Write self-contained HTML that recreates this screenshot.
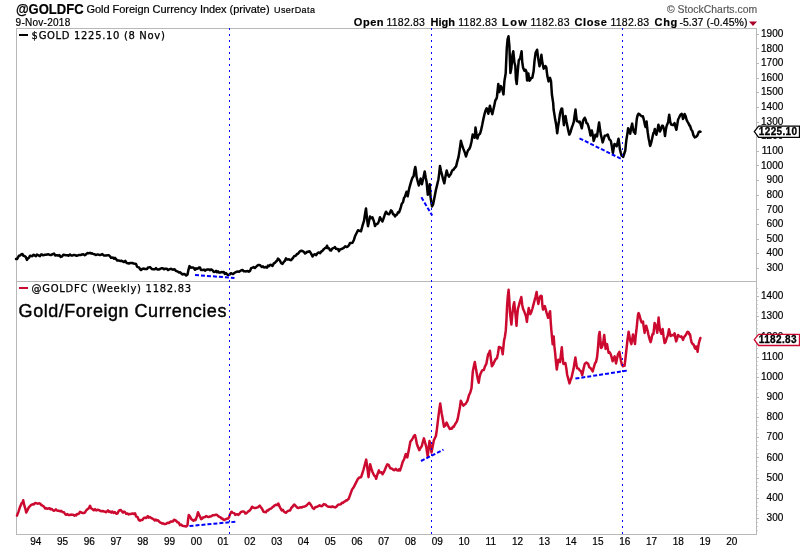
<!DOCTYPE html>
<html><head><meta charset="utf-8"><title>@GOLDFC Gold Foreign Currency Index</title>
<style>
html,body{margin:0;padding:0;background:#fff;}
body{width:800px;height:550px;position:relative;overflow:hidden;font-family:"Liberation Sans",Arial,sans-serif;color:#000;}
svg text{white-space:pre;}
</style></head><body>
<svg width="800" height="550" viewBox="0 0 800 550" style="position:absolute;left:0;top:0">
<rect x="0" y="0" width="800" height="550" fill="#fff"/>
<g fill="none" stroke="#b8b8b8" stroke-width="1" shape-rendering="crispEdges">
<rect x="16.5" y="28.5" width="740.0" height="506.0"/>
<line x1="16.5" y1="281.5" x2="756.5" y2="281.5"/>
<line x1="756.5" y1="268.5" x2="759.0" y2="268.5"/>
<line x1="756.5" y1="253.5" x2="759.0" y2="253.5"/>
<line x1="756.5" y1="239.5" x2="759.0" y2="239.5"/>
<line x1="756.5" y1="224.5" x2="759.0" y2="224.5"/>
<line x1="756.5" y1="209.5" x2="759.0" y2="209.5"/>
<line x1="756.5" y1="195.5" x2="759.0" y2="195.5"/>
<line x1="756.5" y1="180.5" x2="759.0" y2="180.5"/>
<line x1="756.5" y1="165.5" x2="759.0" y2="165.5"/>
<line x1="756.5" y1="151.5" x2="759.0" y2="151.5"/>
<line x1="756.5" y1="136.5" x2="759.0" y2="136.5"/>
<line x1="756.5" y1="122.5" x2="759.0" y2="122.5"/>
<line x1="756.5" y1="107.5" x2="759.0" y2="107.5"/>
<line x1="756.5" y1="92.5" x2="759.0" y2="92.5"/>
<line x1="756.5" y1="78.5" x2="759.0" y2="78.5"/>
<line x1="756.5" y1="63.5" x2="759.0" y2="63.5"/>
<line x1="756.5" y1="48.5" x2="759.0" y2="48.5"/>
<line x1="756.5" y1="34.5" x2="759.0" y2="34.5"/>
<line x1="756.5" y1="518.5" x2="759.0" y2="518.5"/>
<line x1="756.5" y1="498.5" x2="759.0" y2="498.5"/>
<line x1="756.5" y1="478.5" x2="759.0" y2="478.5"/>
<line x1="756.5" y1="457.5" x2="759.0" y2="457.5"/>
<line x1="756.5" y1="437.5" x2="759.0" y2="437.5"/>
<line x1="756.5" y1="417.5" x2="759.0" y2="417.5"/>
<line x1="756.5" y1="397.5" x2="759.0" y2="397.5"/>
<line x1="756.5" y1="377.5" x2="759.0" y2="377.5"/>
<line x1="756.5" y1="357.5" x2="759.0" y2="357.5"/>
<line x1="756.5" y1="336.5" x2="759.0" y2="336.5"/>
<line x1="756.5" y1="316.5" x2="759.0" y2="316.5"/>
<line x1="756.5" y1="296.5" x2="759.0" y2="296.5"/>
</g>
<g fill="none" stroke="#d0d0d0" stroke-width="1" shape-rendering="crispEdges">
<line x1="756.5" y1="530.5" x2="758.0" y2="530.5"/>
<line x1="756.5" y1="526.5" x2="758.0" y2="526.5"/>
<line x1="756.5" y1="522.5" x2="758.0" y2="522.5"/>
<line x1="756.5" y1="514.5" x2="758.0" y2="514.5"/>
<line x1="756.5" y1="510.5" x2="758.0" y2="510.5"/>
<line x1="756.5" y1="506.5" x2="758.0" y2="506.5"/>
<line x1="756.5" y1="502.5" x2="758.0" y2="502.5"/>
<line x1="756.5" y1="494.5" x2="758.0" y2="494.5"/>
<line x1="756.5" y1="490.5" x2="758.0" y2="490.5"/>
<line x1="756.5" y1="486.5" x2="758.0" y2="486.5"/>
<line x1="756.5" y1="482.5" x2="758.0" y2="482.5"/>
<line x1="756.5" y1="474.5" x2="758.0" y2="474.5"/>
<line x1="756.5" y1="470.5" x2="758.0" y2="470.5"/>
<line x1="756.5" y1="466.5" x2="758.0" y2="466.5"/>
<line x1="756.5" y1="461.5" x2="758.0" y2="461.5"/>
<line x1="756.5" y1="453.5" x2="758.0" y2="453.5"/>
<line x1="756.5" y1="449.5" x2="758.0" y2="449.5"/>
<line x1="756.5" y1="445.5" x2="758.0" y2="445.5"/>
<line x1="756.5" y1="441.5" x2="758.0" y2="441.5"/>
<line x1="756.5" y1="433.5" x2="758.0" y2="433.5"/>
<line x1="756.5" y1="429.5" x2="758.0" y2="429.5"/>
<line x1="756.5" y1="425.5" x2="758.0" y2="425.5"/>
<line x1="756.5" y1="421.5" x2="758.0" y2="421.5"/>
<line x1="756.5" y1="413.5" x2="758.0" y2="413.5"/>
<line x1="756.5" y1="409.5" x2="758.0" y2="409.5"/>
<line x1="756.5" y1="405.5" x2="758.0" y2="405.5"/>
<line x1="756.5" y1="401.5" x2="758.0" y2="401.5"/>
<line x1="756.5" y1="393.5" x2="758.0" y2="393.5"/>
<line x1="756.5" y1="389.5" x2="758.0" y2="389.5"/>
<line x1="756.5" y1="385.5" x2="758.0" y2="385.5"/>
<line x1="756.5" y1="381.5" x2="758.0" y2="381.5"/>
<line x1="756.5" y1="373.5" x2="758.0" y2="373.5"/>
<line x1="756.5" y1="369.5" x2="758.0" y2="369.5"/>
<line x1="756.5" y1="365.5" x2="758.0" y2="365.5"/>
<line x1="756.5" y1="361.5" x2="758.0" y2="361.5"/>
<line x1="756.5" y1="353.5" x2="758.0" y2="353.5"/>
<line x1="756.5" y1="348.5" x2="758.0" y2="348.5"/>
<line x1="756.5" y1="344.5" x2="758.0" y2="344.5"/>
<line x1="756.5" y1="340.5" x2="758.0" y2="340.5"/>
<line x1="756.5" y1="332.5" x2="758.0" y2="332.5"/>
<line x1="756.5" y1="328.5" x2="758.0" y2="328.5"/>
<line x1="756.5" y1="324.5" x2="758.0" y2="324.5"/>
<line x1="756.5" y1="320.5" x2="758.0" y2="320.5"/>
<line x1="756.5" y1="312.5" x2="758.0" y2="312.5"/>
<line x1="756.5" y1="308.5" x2="758.0" y2="308.5"/>
<line x1="756.5" y1="304.5" x2="758.0" y2="304.5"/>
<line x1="756.5" y1="300.5" x2="758.0" y2="300.5"/>
<line x1="756.5" y1="292.5" x2="758.0" y2="292.5"/>
<line x1="756.5" y1="288.5" x2="758.0" y2="288.5"/>
</g>
<path d="M16.0,259.0 L17.0,259.0 L18.0,257.3 L19.0,255.7 L20.0,255.5 L21.2,254.5 L22.5,254.0 L23.5,255.8 L24.5,256.0 L25.8,257.0 L27.0,259.9 L28.0,258.4 L29.0,257.8 L30.0,255.7 L31.0,255.9 L32.3,256.2 L33.7,254.7 L35.0,255.6 L36.0,256.2 L37.0,254.5 L38.0,255.2 L39.0,255.6 L40.0,256.1 L41.0,254.6 L42.0,254.4 L43.0,255.2 L44.0,255.0 L45.0,254.7 L46.0,254.8 L47.0,254.6 L48.0,254.3 L49.0,254.5 L50.0,255.0 L51.3,254.9 L52.7,254.1 L54.0,253.6 L55.3,255.4 L56.7,255.2 L58.0,255.7 L59.3,255.0 L60.7,256.9 L62.0,256.5 L63.3,254.8 L64.7,255.0 L66.0,255.3 L67.3,255.3 L68.7,255.7 L70.0,254.5 L71.3,255.5 L72.7,255.4 L74.0,254.9 L75.3,255.3 L76.7,255.8 L78.0,255.3 L79.3,254.9 L80.7,255.1 L82.0,254.4 L83.3,254.3 L84.7,255.3 L86.0,254.4 L87.3,253.1 L88.7,253.3 L90.0,252.8 L91.0,253.4 L92.0,253.2 L93.0,253.9 L94.3,254.2 L95.7,255.0 L97.0,254.6 L98.3,254.6 L99.7,255.0 L101.0,254.7 L102.3,254.1 L103.7,255.4 L105.0,255.4 L106.2,255.4 L107.5,255.3 L108.8,255.2 L110.0,256.3 L111.0,257.7 L112.0,257.7 L113.0,257.6 L114.0,258.8 L115.0,257.9 L116.0,259.0 L117.3,260.6 L118.7,260.5 L120.0,260.9 L121.3,260.7 L122.7,261.4 L124.0,262.1 L125.3,260.9 L126.7,263.0 L128.0,263.2 L129.0,263.5 L130.0,263.1 L131.0,262.9 L132.3,263.0 L133.7,263.5 L135.0,263.7 L136.0,263.9 L137.0,266.7 L138.0,267.1 L139.0,267.4 L140.0,269.0 L141.0,270.0 L142.0,269.2 L143.0,268.7 L144.0,268.6 L145.0,269.0 L146.0,269.1 L147.0,268.9 L148.0,267.5 L149.0,267.4 L150.0,267.1 L151.0,268.1 L152.0,269.1 L153.0,269.2 L154.0,269.3 L155.0,269.2 L156.0,268.1 L157.3,269.5 L158.7,269.5 L160.0,269.0 L161.3,268.3 L162.7,268.2 L164.0,269.3 L165.3,268.7 L166.7,268.7 L168.0,270.0 L169.3,269.4 L170.7,268.8 L172.0,269.2 L173.0,269.8 L174.0,269.2 L175.0,269.7 L176.0,271.1 L177.0,271.2 L178.0,271.8 L179.1,272.6 L180.2,272.3 L181.4,273.6 L182.5,274.4 L183.8,274.0 L185.0,274.3 L186.2,275.5 L187.5,274.5 L188.5,269.6 L189.5,266.1 L190.8,267.7 L192.0,267.4 L193.0,267.5 L194.0,268.3 L195.0,269.8 L196.0,268.3 L197.0,268.9 L198.0,268.4 L199.0,267.6 L200.0,267.6 L201.0,269.9 L202.0,270.0 L203.0,269.9 L204.0,269.6 L205.0,270.7 L206.2,269.8 L207.5,269.6 L208.8,269.4 L210.0,270.2 L211.2,269.4 L212.5,270.2 L213.8,271.9 L215.0,271.7 L216.0,270.9 L217.0,272.2 L218.0,271.3 L219.1,272.6 L220.2,272.5 L221.4,272.1 L222.5,272.2 L223.7,271.9 L224.8,274.0 L226.0,273.0 L227.2,274.5 L228.3,275.1 L229.5,274.6 L230.8,273.2 L232.0,273.7 L233.0,274.0 L234.0,273.2 L235.0,272.5 L236.0,272.0 L237.0,271.7 L238.0,271.4 L239.1,271.8 L240.2,271.0 L241.4,270.2 L242.5,270.0 L243.8,271.3 L245.0,271.2 L246.2,271.4 L247.5,271.0 L248.8,271.7 L250.0,271.0 L251.2,268.1 L252.5,267.6 L253.7,267.1 L254.8,268.0 L256.0,266.9 L257.3,265.7 L258.7,264.9 L260.0,265.2 L261.0,266.2 L262.0,267.0 L263.0,266.4 L264.0,267.5 L265.0,267.3 L266.0,267.0 L267.0,267.6 L268.0,265.6 L269.0,266.1 L270.2,264.8 L271.3,264.9 L272.5,266.0 L273.8,263.4 L275.0,262.8 L276.0,261.5 L277.0,260.7 L278.0,258.6 L279.0,259.5 L280.0,260.7 L281.2,263.2 L282.5,263.9 L284.0,261.6 L285.0,260.7 L286.0,258.3 L287.0,259.5 L288.0,259.5 L289.0,259.3 L290.0,259.9 L291.0,260.3 L292.0,259.1 L293.0,257.9 L294.0,256.3 L295.0,256.1 L296.0,255.4 L297.0,254.0 L298.0,253.7 L299.0,252.4 L300.2,251.1 L301.3,250.7 L302.5,251.0 L304.0,252.1 L305.0,253.5 L306.0,252.9 L307.0,251.8 L308.0,251.9 L309.5,251.2 L311.0,253.4 L312.5,256.5 L313.8,254.6 L315.0,254.3 L316.2,255.1 L317.5,253.1 L318.8,252.5 L320.0,253.1 L321.2,251.6 L322.5,250.7 L323.8,249.1 L325.0,248.1 L326.0,247.9 L327.0,245.7 L328.0,248.3 L329.0,248.3 L330.0,250.3 L331.0,250.6 L332.0,248.8 L333.0,248.2 L334.0,247.9 L335.0,247.0 L336.0,248.8 L337.0,248.9 L338.0,248.9 L339.0,251.2 L340.2,249.3 L341.5,249.1 L342.8,248.4 L344.0,247.7 L345.2,246.2 L346.5,247.0 L347.8,246.5 L349.0,245.2 L350.0,243.0 L351.0,243.0 L352.5,242.7 L354.0,239.7 L355.0,236.3 L356.5,233.3 L358.0,230.2 L359.5,230.8 L361.0,231.3 L362.5,225.7 L364.0,220.9 L365.0,214.3 L366.0,208.4 L367.0,218.7 L368.0,226.2 L369.0,221.2 L370.0,216.5 L371.0,218.2 L372.5,217.3 L374.0,221.7 L375.0,226.0 L376.0,224.4 L377.0,224.0 L378.0,223.4 L379.0,220.9 L380.0,217.2 L381.5,220.1 L382.5,221.4 L384.0,217.1 L385.0,214.1 L386.0,211.7 L387.5,213.8 L389.0,214.3 L390.0,212.6 L391.0,210.3 L392.0,211.4 L393.0,214.2 L394.0,214.5 L395.0,216.5 L396.0,215.0 L397.0,214.6 L398.0,212.3 L399.0,212.5 L400.5,208.5 L401.8,203.7 L403.0,202.3 L404.0,197.9 L405.0,196.5 L406.5,191.8 L407.7,196.2 L408.6,191.3 L409.5,187.3 L410.4,184.2 L411.3,181.0 L412.5,177.6 L413.6,176.3 L414.5,170.3 L415.3,166.9 L416.0,171.1 L416.5,176.5 L417.8,181.7 L418.8,185.5 L419.8,182.2 L420.7,178.6 L421.9,184.3 L423.3,178.3 L424.7,171.4 L425.7,177.4 L426.6,182.1 L427.2,188.4 L427.8,194.8 L428.8,189.6 L429.7,184.2 L430.2,191.8 L430.6,197.4 L431.3,202.1 L432.0,206.4 L433.0,204.6 L433.7,201.5 L434.8,195.8 L436.0,189.5 L437.2,184.6 L438.4,179.5 L439.2,173.3 L440.0,165.9 L441.0,171.1 L442.0,174.8 L443.2,179.7 L444.3,183.3 L445.5,176.3 L446.7,170.5 L447.8,174.6 L449.0,176.6 L449.9,175.1 L450.8,174.2 L451.7,171.6 L452.6,170.0 L453.5,169.7 L454.4,168.4 L456.1,166.4 L457.3,161.4 L458.5,157.1 L459.7,149.5 L460.9,140.8 L462.0,145.0 L463.2,148.4 L464.6,152.0 L466.0,156.5 L467.0,153.1 L468.0,150.4 L469.2,149.1 L470.3,146.8 L471.5,141.8 L472.7,134.5 L473.7,135.9 L474.6,137.8 L475.1,133.8 L475.5,127.6 L476.5,134.0 L477.4,138.6 L478.3,135.3 L479.2,134.4 L480.1,133.5 L481.0,130.4 L482.2,125.0 L483.3,119.4 L484.5,114.2 L485.7,110.2 L486.6,108.4 L487.1,108.7 L488.3,113.8 L489.9,105.8 L491.0,110.0 L492.3,114.2 L493.2,110.2 L494.2,105.9 L495.3,100.5 L496.5,98.6 L497.0,96.5 L498.3,83.9 L499.2,92.1 L500.9,86.1 L502.2,88.7 L503.5,94.4 L504.4,81.4 L505.7,73.2 L506.8,47.9 L507.6,39.4 L508.5,36.3 L509.4,46.2 L510.4,72.9 L511.4,68.0 L512.4,55.1 L513.3,51.3 L514.4,62.5 L515.3,65.8 L515.9,78.7 L516.7,84.1 L517.9,69.6 L518.8,60.2 L520.1,58.5 L521.6,51.3 L522.2,61.6 L523.1,67.7 L524.4,70.9 L525.4,69.7 L526.4,71.6 L527.1,80.5 L528.4,73.6 L529.3,80.7 L530.3,79.8 L531.3,77.7 L532.3,77.7 L533.6,71.3 L534.5,61.2 L535.6,52.7 L537.1,49.7 L538.2,58.4 L539.5,66.2 L540.5,61.5 L541.4,54.8 L542.4,62.8 L543.7,68.7 L545.4,66.0 L546.3,67.5 L547.3,75.8 L548.6,81.4 L550.0,77.8 L551.0,81.0 L551.9,94.5 L553.2,103.1 L553.6,109.5 L554.4,114.4 L555.2,119.6 L556.1,124.3 L556.7,128.8 L557.2,133.3 L558.2,125.7 L559.1,120.2 L560.0,113.7 L560.8,110.5 L561.5,108.6 L562.2,108.7 L563.0,116.6 L563.9,125.2 L564.7,119.2 L565.5,116.0 L566.5,121.7 L567.4,126.2 L568.4,131.0 L569.3,134.6 L570.5,132.1 L571.7,127.9 L572.8,124.9 L573.8,121.8 L574.6,115.6 L575.5,109.6 L576.2,116.1 L576.9,121.1 L578.0,121.4 L578.9,122.2 L579.8,121.6 L580.8,125.0 L581.8,128.3 L582.5,124.3 L583.1,120.5 L583.9,119.3 L584.7,117.7 L585.6,119.5 L586.4,122.9 L587.4,123.5 L588.3,125.9 L589.4,129.8 L590.5,135.5 L591.2,134.0 L591.8,130.5 L592.8,135.3 L593.7,141.0 L594.6,138.1 L595.4,134.7 L596.2,135.0 L597.0,136.5 L598.0,129.8 L599.1,122.5 L600.0,129.3 L600.8,134.4 L601.8,138.5 L602.7,142.4 L603.7,139.2 L604.7,135.8 L606.2,135.5 L607.7,134.5 L608.5,137.0 L609.3,139.4 L610.1,139.8 L610.9,141.1 L611.9,146.8 L612.9,153.0 L613.7,148.3 L614.5,143.9 L615.6,145.0 L616.7,146.3 L617.6,142.6 L618.5,138.8 L619.2,143.5 L619.9,149.3 L620.8,152.9 L621.6,155.6 L622.4,155.3 L623.2,156.9 L624.3,153.5 L625.3,150.5 L625.9,144.1 L626.5,139.1 L627.3,134.3 L628.1,128.3 L629.2,130.7 L630.2,133.7 L631.2,127.5 L632.2,123.6 L633.0,128.6 L633.9,132.1 L634.6,132.4 L635.2,133.8 L636.0,126.7 L636.8,118.9 L637.6,115.4 L638.4,113.7 L639.4,114.1 L640.4,115.3 L641.7,116.2 L642.9,116.3 L643.7,119.2 L644.5,122.7 L645.1,125.7 L645.6,127.0 L646.1,124.7 L646.6,121.6 L647.2,128.0 L647.8,132.9 L648.6,138.2 L649.4,141.9 L649.8,144.6 L650.2,145.9 L651.0,143.4 L651.9,139.8 L652.7,136.0 L653.5,132.8 L654.2,132.0 L654.8,128.9 L655.6,132.9 L656.4,134.8 L657.4,130.8 L658.4,124.7 L659.2,127.6 L660.0,131.6 L661.0,129.0 L662.0,125.8 L662.8,125.8 L663.6,128.0 L664.3,130.7 L665.0,136.0 L665.8,129.9 L666.6,126.1 L667.4,124.0 L668.2,122.1 L668.7,117.7 L669.2,114.7 L669.7,117.9 L670.2,121.9 L671.2,124.5 L672.3,124.9 L673.4,124.9 L674.5,123.1 L675.5,127.0 L676.4,129.8 L677.3,124.4 L678.1,119.5 L678.9,118.0 L679.7,116.2 L680.7,114.5 L681.7,113.9 L682.4,115.7 L683.0,118.9 L683.8,117.4 L684.6,114.0 L685.6,116.0 L686.6,119.9 L687.6,121.8 L688.7,123.7 L689.4,125.4 L690.0,125.7 L691.2,129.5 L692.3,130.9 L693.5,135.4 L694.7,137.5 L696.0,136.8 L697.2,135.8 L698.0,133.9 L698.8,131.9 L699.6,131.5 L700.5,131.7" fill="none" stroke="#000" stroke-width="2.5" stroke-linejoin="round" stroke-linecap="round"/>
<path d="M17.0,515.6 L18.5,511.6 L20.0,506.9 L21.5,503.4 L22.4,502.8 L23.2,500.3 L24.5,506.2 L25.4,508.8 L26.2,512.6 L27.1,511.0 L28.0,509.1 L29.0,506.9 L30.0,506.2 L31.2,504.9 L32.5,504.3 L33.8,504.4 L35.0,503.1 L36.0,503.1 L37.0,503.4 L38.0,503.7 L39.1,503.3 L40.2,503.6 L41.2,505.0 L42.6,505.6 L44.0,506.8 L45.2,508.4 L46.3,508.2 L47.5,508.8 L48.5,508.4 L49.5,508.2 L50.5,509.3 L51.6,508.9 L52.7,509.9 L53.8,510.7 L54.8,510.4 L55.9,509.3 L57.0,510.5 L58.1,510.8 L59.1,510.8 L60.2,511.3 L61.2,510.8 L62.6,512.1 L64.0,512.3 L65.2,514.2 L66.3,514.8 L67.5,514.1 L68.7,515.1 L69.8,515.0 L71.0,514.6 L72.0,514.7 L73.1,514.7 L74.2,515.7 L75.2,514.9 L76.2,515.4 L77.1,513.9 L78.0,514.0 L79.0,513.6 L80.0,511.9 L81.2,512.4 L82.5,513.1 L83.8,513.0 L85.0,512.5 L86.2,510.4 L87.5,509.3 L88.8,508.3 L90.0,505.8 L91.2,508.5 L92.5,509.2 L93.8,510.3 L95.0,509.1 L96.2,510.4 L97.5,509.8 L98.5,509.9 L99.5,510.4 L100.5,511.0 L101.6,511.3 L102.7,511.0 L103.8,511.4 L104.8,511.6 L105.9,512.3 L107.0,511.4 L108.0,510.3 L109.0,511.9 L110.0,511.5 L111.2,512.6 L112.3,511.5 L113.5,512.9 L114.8,512.0 L116.2,513.7 L117.5,513.5 L118.4,511.6 L119.2,510.5 L120.6,509.9 L122.0,511.5 L123.0,512.6 L124.0,511.6 L125.0,512.1 L126.2,513.9 L127.5,513.5 L128.8,514.5 L130.0,513.9 L131.2,513.9 L132.5,513.4 L133.8,514.1 L135.0,513.2 L136.2,516.6 L137.5,516.9 L138.8,519.9 L140.0,520.7 L141.2,519.9 L142.5,519.9 L143.8,518.0 L145.0,517.6 L146.0,518.1 L147.0,517.2 L147.9,516.2 L148.8,517.6 L149.9,517.0 L151.0,517.8 L152.4,518.6 L153.8,519.6 L154.8,520.4 L155.9,519.6 L157.0,520.6 L158.0,520.2 L159.0,521.5 L160.0,522.3 L161.0,522.8 L162.0,523.5 L163.0,523.3 L164.1,524.0 L165.2,523.9 L166.2,523.7 L167.6,522.7 L169.0,523.0 L170.1,522.0 L171.2,521.5 L172.1,521.4 L173.0,521.5 L174.0,519.7 L175.0,520.1 L176.2,520.9 L177.5,522.3 L178.8,522.7 L180.0,525.1 L181.2,524.6 L182.5,525.8 L183.8,526.1 L185.0,526.2 L186.4,526.4 L187.5,525.1 L188.1,519.4 L188.8,514.9 L189.6,516.0 L190.5,517.5 L191.5,519.3 L192.5,520.0 L193.5,520.7 L194.5,519.8 L195.4,520.1 L196.2,518.4 L197.2,515.4 L198.0,512.2 L199.5,515.7 L200.4,517.4 L201.2,519.1 L202.1,518.7 L203.0,517.5 L204.0,517.2 L205.0,517.0 L206.2,516.1 L207.5,516.7 L208.8,517.0 L210.0,516.5 L211.3,516.3 L212.7,515.3 L214.0,515.2 L215.0,514.9 L215.9,514.8 L216.9,514.8 L218.2,516.1 L219.5,517.0 L220.5,517.2 L221.5,518.6 L222.5,518.5 L223.5,519.8 L224.5,519.9 L225.5,519.3 L226.8,518.7 L228.2,518.6 L229.1,517.0 L230.0,514.4 L231.5,511.7 L232.4,512.6 L233.3,512.9 L234.2,513.1 L235.2,515.0 L236.2,514.2 L237.3,514.3 L238.4,515.0 L239.4,513.9 L240.9,512.0 L242.3,511.6 L243.4,511.5 L244.4,511.9 L245.4,513.5 L246.5,513.3 L247.9,511.7 L249.3,510.9 L250.7,509.3 L252.1,506.7 L253.1,507.5 L254.2,507.9 L255.2,508.1 L256.3,507.8 L258.0,507.1 L259.7,505.6 L260.9,507.3 L262.2,509.1 L263.5,511.8 L264.8,511.9 L265.9,512.3 L267.0,510.6 L268.0,510.5 L269.0,509.5 L270.0,508.9 L271.0,508.6 L272.1,507.6 L273.2,506.8 L274.5,505.5 L275.8,504.7 L277.1,505.1 L278.3,503.6 L280.0,507.4 L281.7,510.4 L282.8,509.7 L283.8,511.5 L284.9,512.4 L285.9,512.7 L286.9,511.8 L288.0,511.0 L289.1,510.6 L290.1,510.5 L291.2,508.0 L292.3,507.0 L293.4,505.4 L294.4,504.5 L295.4,505.7 L296.5,506.8 L297.6,507.9 L298.6,507.9 L300.0,507.3 L301.4,507.6 L302.8,506.7 L304.2,506.7 L305.5,506.1 L306.8,505.2 L308.1,503.7 L309.3,502.9 L311.0,505.0 L312.7,508.0 L314.1,508.9 L315.5,506.9 L316.9,506.9 L318.3,506.2 L319.6,505.3 L321.0,506.1 L322.0,506.3 L322.9,505.2 L323.9,504.0 L324.9,504.5 L325.8,504.8 L326.8,506.0 L328.2,506.7 L329.6,506.7 L331.0,507.0 L332.4,506.5 L333.8,507.0 L335.2,507.4 L336.6,506.6 L338.0,504.8 L339.4,504.6 L340.8,504.2 L341.9,502.7 L343.0,503.0 L344.1,501.7 L345.1,501.4 L346.1,500.2 L347.0,500.5 L348.7,498.7 L350.4,494.1 L352.1,489.4 L353.5,487.6 L354.9,484.9 L356.3,482.1 L357.7,479.2 L359.4,477.5 L361.1,477.2 L362.3,473.5 L363.4,470.0 L364.8,464.8 L366.2,459.6 L367.4,468.3 L368.5,477.2 L369.3,471.2 L370.1,464.2 L371.3,468.4 L372.4,471.7 L373.4,474.0 L374.3,475.7 L375.2,476.2 L376.1,478.8 L377.5,474.2 L378.9,470.4 L379.8,472.5 L380.7,472.6 L381.6,472.2 L382.5,474.3 L383.8,472.2 L385.0,469.6 L386.1,466.8 L387.3,464.4 L388.7,464.9 L390.1,468.0 L391.2,468.5 L392.3,468.7 L393.4,470.1 L394.4,470.2 L395.7,468.7 L397.0,470.3 L398.0,470.6 L399.0,469.2 L400.0,470.5 L401.4,466.4 L402.7,461.8 L404.2,459.0 L405.8,454.0 L407.3,457.4 L408.9,449.4 L410.4,441.5 L411.7,440.1 L412.9,438.0 L414.0,435.7 L415.0,435.1 L415.9,438.8 L416.8,443.7 L418.0,447.0 L419.3,450.2 L420.5,447.9 L421.8,446.1 L422.8,442.0 L423.9,438.4 L425.0,442.3 L426.2,446.6 L427.0,452.0 L427.7,456.4 L428.6,448.3 L429.5,441.0 L430.5,445.9 L431.5,452.5 L432.6,446.8 L433.8,440.4 L434.8,438.3 L435.9,436.0 L436.9,429.2 L437.9,420.8 L439.0,411.9 L440.2,403.5 L441.0,408.9 L441.7,413.5 L442.8,419.4 L444.0,426.7 L445.3,425.5 L446.6,422.6 L448.2,426.1 L449.9,429.0 L450.9,428.4 L451.8,428.7 L452.8,426.7 L453.7,426.9 L455.2,424.0 L456.8,421.6 L457.8,418.5 L458.8,413.1 L459.8,408.1 L460.8,400.7 L462.1,403.3 L463.4,405.6 L464.6,404.6 L465.9,403.5 L467.5,400.7 L469.0,395.2 L470.3,392.5 L471.5,388.2 L472.2,379.6 L472.8,371.4 L473.8,366.6 L474.8,362.0 L475.7,367.1 L476.6,372.5 L477.6,378.1 L478.7,382.7 L479.5,377.5 L480.4,374.1 L482.1,370.4 L483.8,370.0 L485.0,366.4 L486.3,363.9 L487.2,359.3 L488.1,354.4 L489.0,353.3 L489.9,350.7 L490.9,358.9 L491.9,366.3 L493.2,364.4 L494.5,361.3 L495.8,358.9 L497.0,358.1 L498.0,353.5 L498.9,347.1 L500.2,347.3 L501.5,348.2 L502.1,350.6 L502.7,354.3 L503.4,347.2 L504.0,340.8 L504.9,336.7 L505.8,330.4 L506.5,318.8 L507.1,305.8 L507.8,296.7 L508.6,289.8 L509.3,299.6 L509.9,311.5 L510.7,318.5 L511.4,324.6 L512.1,316.5 L512.9,309.1 L513.5,305.4 L514.2,302.3 L514.8,308.4 L515.5,314.2 L516.0,319.6 L516.5,325.8 L517.2,315.5 L518.0,308.3 L518.8,305.9 L519.6,302.6 L520.4,300.0 L521.3,297.0 L522.2,304.7 L523.1,308.9 L524.1,311.1 L525.2,314.1 L526.0,316.2 L526.9,321.9 L527.8,314.1 L528.7,308.1 L529.5,311.4 L530.3,314.1 L531.3,312.2 L532.3,309.0 L533.4,304.9 L534.6,300.2 L535.6,296.6 L536.6,292.0 L537.5,299.4 L538.4,303.9 L539.1,299.8 L539.9,297.0 L540.8,295.7 L541.7,296.1 L542.3,304.6 L543.0,309.6 L543.9,307.8 L544.8,306.1 L545.7,309.4 L546.6,312.9 L547.3,315.0 L548.1,317.8 L549.1,314.4 L550.1,311.2 L550.7,321.8 L551.4,330.6 L552.0,337.2 L552.7,344.3 L553.2,339.5 L553.7,336.5 L554.4,346.4 L555.2,353.7 L556.0,362.6 L556.8,369.6 L557.5,364.8 L558.3,359.8 L559.2,359.9 L560.1,362.1 L560.9,354.7 L561.8,347.3 L562.6,356.9 L563.4,363.9 L564.4,363.4 L565.4,363.1 L566.3,368.1 L567.2,375.0 L568.3,378.9 L569.5,383.4 L570.5,380.1 L571.5,377.8 L572.5,373.3 L573.6,368.6 L574.5,362.7 L575.4,357.5 L576.2,363.6 L577.1,368.2 L578.4,368.4 L579.7,370.3 L580.9,371.0 L582.2,375.2 L583.5,368.9 L584.8,363.7 L586.4,362.6 L588.1,363.7 L589.3,367.3 L590.6,368.1 L591.6,369.7 L592.7,371.4 L593.8,367.3 L595.0,363.3 L596.0,361.9 L597.0,357.6 L597.7,351.1 L598.4,342.3 L598.9,335.4 L599.6,331.9 L600.3,338.9 L601.0,348.0 L601.8,347.4 L602.6,345.2 L603.4,341.0 L604.2,335.0 L604.9,341.3 L605.6,349.0 L606.3,346.7 L607.0,344.1 L607.8,348.4 L608.6,352.8 L609.6,352.2 L610.6,354.0 L611.6,357.2 L612.6,361.2 L613.6,358.6 L614.6,356.4 L615.3,359.5 L616.0,363.4 L617.0,358.7 L618.0,354.3 L618.7,353.3 L619.4,351.9 L620.2,356.5 L621.0,361.0 L622.0,364.9 L623.0,366.3 L623.8,365.1 L624.6,365.7 L625.3,359.8 L626.0,353.3 L626.7,347.2 L627.4,340.5 L628.0,336.3 L628.6,331.8 L629.3,335.3 L630.0,339.7 L630.7,342.2 L631.4,344.1 L632.2,339.4 L633.0,334.5 L634.0,339.6 L635.0,344.1 L635.7,335.9 L636.4,330.5 L637.0,324.5 L637.6,318.4 L638.1,314.3 L638.6,313.1 L639.3,314.8 L640.0,317.2 L640.8,320.2 L641.6,322.4 L642.3,321.8 L643.0,321.6 L643.8,327.5 L644.6,332.9 L645.4,327.9 L646.2,325.7 L646.9,328.3 L647.6,330.8 L648.3,334.2 L649.0,336.9 L649.8,339.8 L650.6,342.1 L651.3,339.8 L652.0,336.1 L652.7,333.8 L653.4,334.1 L654.0,328.6 L654.6,323.0 L655.3,324.4 L656.0,326.5 L656.6,328.8 L657.2,332.8 L657.9,325.5 L658.6,317.5 L659.3,325.0 L660.0,330.2 L660.7,331.8 L661.4,333.8 L662.0,332.0 L662.6,328.9 L663.6,336.9 L664.6,343.1 L665.6,342.0 L666.6,338.5 L667.8,335.5 L669.0,329.3 L669.8,332.6 L670.6,336.1 L671.8,335.2 L673.0,335.1 L673.8,335.5 L674.6,333.3 L675.4,338.1 L676.2,341.4 L677.1,338.7 L678.0,334.9 L679.0,335.9 L680.0,336.6 L680.7,336.9 L681.4,336.4 L682.2,337.8 L683.0,339.9 L684.0,337.3 L685.0,335.9 L686.0,334.7 L687.0,332.5 L687.8,331.7 L688.6,332.2 L689.3,334.4 L690.0,334.3 L690.8,338.8 L691.6,342.4 L692.5,343.9 L693.4,344.4 L694.2,346.1 L695.0,348.3 L695.6,348.8 L696.2,346.5 L696.9,347.9 L697.6,351.8 L698.3,346.3 L699.0,342.6 L699.7,340.1 L700.4,338.0" fill="none" stroke="#cc0a30" stroke-width="2.5" stroke-linejoin="round" stroke-linecap="round"/>
<g stroke="#0000ff" stroke-width="1" stroke-dasharray="2 4" shape-rendering="crispEdges">
<line x1="229.5" y1="28" x2="229.5" y2="535"/>
<line x1="431.5" y1="28" x2="431.5" y2="535"/>
<line x1="622.5" y1="28" x2="622.5" y2="535"/>
</g>
<g stroke="#0000ff" stroke-width="2" stroke-dasharray="4 2" fill="none">
<line x1="195" y1="275" x2="234.5" y2="278"/>
<line x1="421.4" y1="197.3" x2="432.2" y2="215.6"/>
<line x1="579.5" y1="138.3" x2="621" y2="158.8"/>
<line x1="189.5" y1="526" x2="237" y2="521.6"/>
<line x1="421" y1="461" x2="443.5" y2="449.6"/>
<line x1="575.4" y1="378.6" x2="627" y2="370.6"/>
</g>
<rect x="19" y="34" width="9" height="2" fill="#000"/>
<rect x="19" y="287" width="9" height="2" fill="#cc0a30"/>
<g font-family="'Liberation Sans', Arial, sans-serif" font-size="10px" fill="#000" stroke="#000" stroke-width="0.2" text-anchor="end">
<text x="783.3" y="271.0">300</text>
<text x="783.3" y="256.4">400</text>
<text x="783.3" y="241.7">500</text>
<text x="783.3" y="227.1">600</text>
<text x="783.3" y="212.5">700</text>
<text x="783.3" y="197.8">800</text>
<text x="783.3" y="183.2">900</text>
<text x="783.3" y="168.6">1000</text>
<text x="783.3" y="153.9">1100</text>
<text x="783.3" y="124.7">1300</text>
<text x="783.3" y="110.0">1400</text>
<text x="783.3" y="95.4">1500</text>
<text x="783.3" y="80.8">1600</text>
<text x="783.3" y="66.2">1700</text>
<text x="783.3" y="51.5">1800</text>
<text x="783.3" y="36.9">1900</text>
<text x="783.3" y="521.1">300</text>
<text x="783.3" y="500.9">400</text>
<text x="783.3" y="480.7">500</text>
<text x="783.3" y="460.5">600</text>
<text x="783.3" y="440.4">700</text>
<text x="783.3" y="420.2">800</text>
<text x="783.3" y="400.0">900</text>
<text x="783.3" y="379.8">1000</text>
<text x="783.3" y="359.6">1100</text>
<text x="783.3" y="319.3">1300</text>
<text x="783.3" y="299.1">1400</text>
</g>
<g font-family="'Liberation Sans', Arial, sans-serif" font-size="10px" fill="#000" stroke="#000" stroke-width="0.2" text-anchor="end">
<text x="783.3" y="139.3">1200</text>
<text x="783.3" y="339.5">1200</text>
</g>
<g font-family="'Liberation Sans', Arial, sans-serif" font-size="10px" fill="#000" stroke="#000" stroke-width="0.2" text-anchor="middle">
<text x="35.8" y="545">94</text>
<text x="62.5" y="545">95</text>
<text x="89.3" y="545">96</text>
<text x="116.1" y="545">97</text>
<text x="142.8" y="545">98</text>
<text x="169.6" y="545">99</text>
<text x="196.4" y="545">00</text>
<text x="223.1" y="545">01</text>
<text x="249.9" y="545">02</text>
<text x="276.7" y="545">03</text>
<text x="303.4" y="545">04</text>
<text x="330.2" y="545">05</text>
<text x="357.0" y="545">06</text>
<text x="383.8" y="545">07</text>
<text x="410.5" y="545">08</text>
<text x="437.3" y="545">09</text>
<text x="464.1" y="545">10</text>
<text x="490.8" y="545">11</text>
<text x="517.6" y="545">12</text>
<text x="544.4" y="545">13</text>
<text x="571.1" y="545">14</text>
<text x="597.9" y="545">15</text>
<text x="624.7" y="545">16</text>
<text x="651.5" y="545">17</text>
<text x="678.2" y="545">18</text>
<text x="705.0" y="545">19</text>
<text x="731.8" y="545">20</text>
</g>
<path d="M754.3,131.55 L758.6,126.15 L799.5,126.15 L799.5,137.35 L758.6,137.35 Z" fill="#fff" stroke="#000" stroke-width="1.3"/><text x="758.8" y="135.3" font-family="'Liberation Sans', Arial, sans-serif" font-size="10px" font-weight="bold" letter-spacing="0.36px" fill="#000" stroke="#000" stroke-width="0.3">1225.10</text>
<path d="M754.3,339.7 L758.6,334.29999999999995 L799.5,334.29999999999995 L799.5,345.5 L758.6,345.5 Z" fill="#fff" stroke="#cc0a30" stroke-width="1.3"/><text x="758.8" y="343.4" font-family="'Liberation Sans', Arial, sans-serif" font-size="10px" font-weight="bold" letter-spacing="0.36px" fill="#000" stroke="#000" stroke-width="0.3">1182.83</text>
<text id="t_sym" x="15.9" y="13.6" font-family="'Liberation Sans', Arial, sans-serif" font-size="14px" font-weight="bold" fill="#000" stroke="#000" stroke-width="0.2" textLength="67.7" lengthAdjust="spacingAndGlyphs">@GOLDFC</text>
<text id="t_name" x="86.5" y="13.1" font-family="'Liberation Sans', Arial, sans-serif" font-size="11px" fill="#000" stroke="#000" stroke-width="0.2" letter-spacing="-0.043px" xml:space="preserve">Gold Foreign Currency Index (private)</text>
<text id="t_user" x="274.0" y="13.1" font-family="'Liberation Sans', Arial, sans-serif" font-size="9px" fill="#000" stroke="#000" stroke-width="0.2" letter-spacing="0.420px" xml:space="preserve">UserData</text>
<text id="t_date" x="15.6" y="26" font-family="'Liberation Sans', Arial, sans-serif" font-size="10px" fill="#000" stroke="#000" stroke-width="0.2" letter-spacing="0.261px" xml:space="preserve">9-Nov-2018</text>
<text id="t_copy" x="666.9" y="13.0" font-family="'Liberation Sans', Arial, sans-serif" font-size="10.4px" fill="#555" stroke="#555" stroke-width="0.15" letter-spacing="0.041px" xml:space="preserve">© StockCharts.com</text>
<text id="t_open" x="353.8" y="26" font-family="'Liberation Sans', Arial, sans-serif" font-size="11px" font-weight="bold" fill="#000" stroke="#000" stroke-width="0.2" letter-spacing="0.529px" xml:space="preserve">Open</text>
<text id="t_openv" x="386.6" y="26" font-family="'Liberation Sans', Arial, sans-serif" font-size="10.5px" fill="#000" stroke="#000" stroke-width="0.2" letter-spacing="0.187px" xml:space="preserve">1182.83</text>
<text id="t_high" x="430.4" y="26" font-family="'Liberation Sans', Arial, sans-serif" font-size="11px" font-weight="bold" fill="#000" stroke="#000" stroke-width="0.2" letter-spacing="0.087px" xml:space="preserve">High</text>
<text id="t_highv" x="458.2" y="26" font-family="'Liberation Sans', Arial, sans-serif" font-size="10.5px" fill="#000" stroke="#000" stroke-width="0.2" letter-spacing="0.287px" xml:space="preserve">1182.83</text>
<text id="t_low" x="502.1" y="26" font-family="'Liberation Sans', Arial, sans-serif" font-size="11px" font-weight="bold" fill="#000" stroke="#000" stroke-width="0.2" letter-spacing="1.353px" xml:space="preserve">Low</text>
<text id="t_lowv" x="530.4" y="26" font-family="'Liberation Sans', Arial, sans-serif" font-size="10.5px" fill="#000" stroke="#000" stroke-width="0.2" letter-spacing="0.337px" xml:space="preserve">1182.83</text>
<text id="t_close" x="574.5" y="26" font-family="'Liberation Sans', Arial, sans-serif" font-size="11px" font-weight="bold" fill="#000" stroke="#000" stroke-width="0.2" letter-spacing="0.586px" xml:space="preserve">Close</text>
<text id="t_closev" x="610.5" y="26" font-family="'Liberation Sans', Arial, sans-serif" font-size="10.5px" fill="#000" stroke="#000" stroke-width="0.2" letter-spacing="0.237px" xml:space="preserve">1182.83</text>
<text id="t_chg" x="654.6" y="26" font-family="'Liberation Sans', Arial, sans-serif" font-size="11px" font-weight="bold" fill="#000" stroke="#000" stroke-width="0.2" letter-spacing="0.609px" xml:space="preserve">Chg</text>
<text id="t_chgv" x="679.5" y="26" font-family="'Liberation Sans', Arial, sans-serif" font-size="10.5px" fill="#000" stroke="#000" stroke-width="0.2" letter-spacing="-0.008px" xml:space="preserve">-5.37</text>
<text id="t_chgp" x="706.6" y="26" font-family="'Liberation Sans', Arial, sans-serif" font-size="10.5px" fill="#000" stroke="#000" stroke-width="0.2" letter-spacing="0.091px" xml:space="preserve">(-0.45%)</text>
<text id="t_leg1" x="31.6" y="39" font-family="'DejaVu Sans', Verdana, sans-serif" font-size="10px" fill="#000" stroke="#000" stroke-width="0.25" letter-spacing="0.669px" xml:space="preserve">$GOLD 1225.10 (8 Nov)</text>
<text id="t_leg2" x="31.5" y="292.3" font-family="'DejaVu Sans', Verdana, sans-serif" font-size="10px" fill="#000" stroke="#000" stroke-width="0.25" letter-spacing="0.716px" xml:space="preserve">@GOLDFC (Weekly) 1182.83</text>
<text id="t_big" x="18.6" y="317.2" font-family="'Liberation Sans', Arial, sans-serif" font-size="18px" fill="#000" stroke="#000" stroke-width="0.4" letter-spacing="0.533px" xml:space="preserve">Gold/Foreign Currencies</text>
<path d="M749,21.5 L757,21.5 L753,26 Z" fill="#a8002a"/>
</svg>
</body></html>
